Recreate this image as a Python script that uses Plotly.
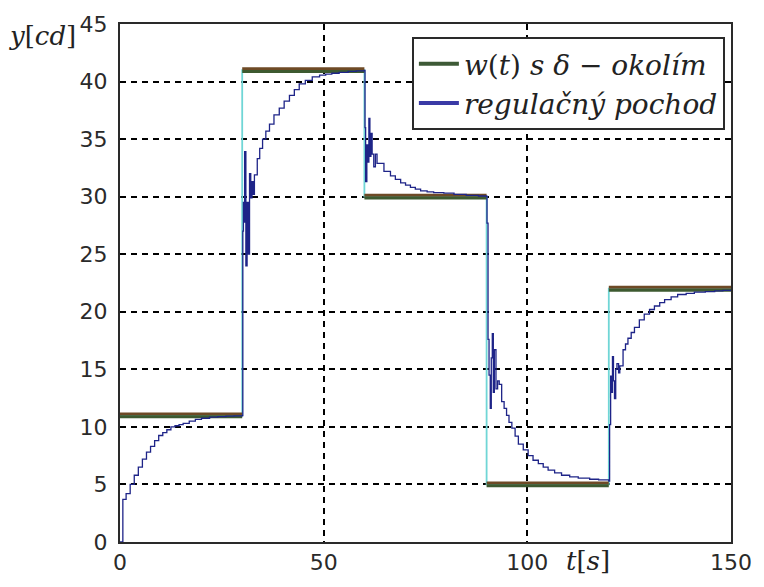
import plotly.graph_objects as go

# setpoint w(t): step times and levels
step_times = [0, 30, 60, 90, 120, 150]
step_levels = [11, 41, 30, 5, 22]
delta = 0.12

# control response
resp_t = [0, 0.7, 1.5, 2.5, 3.5, 4.5, 5.5, 6.5, 7.5, 8.5, 9.5, 10.5, 11.5, 12.5,
          13.5, 14.5, 15.5, 17, 18.5, 20, 22, 24, 26, 28,
          30, 30.15, 30.3, 30.45, 30.6, 30.9, 31.2, 31.5, 31.8, 32.1, 32.4, 32.7,
          33.0, 33.7, 34.3, 35.0, 35.8, 36.7, 37.8, 39.1, 40.3, 41.6, 42.8, 44.0,
          45.5, 47.2, 49, 50.5, 52, 53.8, 56, 58,
          60, 60.15, 60.3, 60.6, 60.85, 61.1, 61.35, 61.6, 61.9, 62.3, 62.7, 63.1,
          63.6, 64.8, 66.4, 67.6, 68.9, 70.1, 71.3, 72.5, 73.8, 75.4, 77, 79.5,
          82, 85, 88,
          90, 90.1, 90.35, 90.6, 90.9, 91.15, 91.4, 91.65, 91.9, 92.3, 92.7, 93.1,
          93.7, 94.3, 94.9, 95.5, 96.2, 97.0, 97.8, 99.0, 100.2, 101.4, 102.7,
          103.9, 105.1, 106.7, 108.4, 110.4, 112.5, 115.3, 117.5,
          120, 120.2, 120.45, 120.7, 120.9, 121.15, 121.4, 121.7, 122.0, 122.4,
          122.7, 123.5, 124.1, 124.7, 125.5, 126.3, 127.5, 128.7, 130, 131.2,
          132.5, 133.7, 135.3, 136.9, 139, 141, 143.7, 146, 148, 150]
resp_y = [0, 3.7, 4.2, 5.0, 5.8, 6.5, 7.2, 7.8, 8.3, 8.8, 9.25, 9.5, 9.75, 10.0,
          10.1, 10.2, 10.3, 10.5, 10.65, 10.75, 10.85, 10.9, 10.94, 10.96,
          10.98, 27, 29.5, 27.8, 33.9, 24.0, 29.5, 25.0, 32.0, 29.9, 31.3, 30.2,
          31.9, 33.3, 34.2, 35.0, 35.7, 36.3, 37.1, 37.7, 38.3, 38.8, 39.3, 39.8,
          40.1, 40.4, 40.55, 40.65, 40.72, 40.8, 40.88, 40.93,
          40.96, 36.0, 31.3, 34.5, 33.0, 36.8, 33.5, 35.5, 33.7, 32.6, 33.7, 32.9,
          32.9, 32.2, 31.8, 31.5, 31.2, 31.0, 30.8, 30.65, 30.5, 30.42, 30.35, 30.3,
          30.2, 30.12, 30.06,
          30.03, 27.7, 17.6, 14.5, 11.6, 16.0, 18.1, 13.0, 16.7, 13.3, 14.0, 13.7,
          12.2, 11.6, 11.0, 10.4, 9.9, 9.2, 8.5, 8.0, 7.5, 7.1, 6.8,
          6.5, 6.25, 6.0, 5.8, 5.65, 5.55, 5.45, 5.4,
          5.3, 10.2, 14.4, 13.0, 16.1, 14.0, 12.45, 15.0, 15.5, 14.7,
          15.3, 16.7, 17.2, 17.7, 18.2, 18.65, 19.3, 19.8, 20.2, 20.5,
          20.8, 21.05, 21.3, 21.5, 21.6, 21.7, 21.75, 21.82, 21.86, 21.9]

x_ticks = [0, 50, 100, 150]
y_ticks = [0, 5, 10, 15, 20, 25, 30, 35, 40, 45]

legend_names = ["<i>w</i>(<i>t</i>) <i>s δ</i> − <i>okolím</i>",
                "<i>regulačný pochod</i>"]

# build band segments
seg_x, up_y, lo_y = [], [], []
for i, lvl in enumerate(step_levels):
    seg_x += [step_times[i], step_times[i + 1], None]
    up_y += [lvl + delta, lvl + delta, None]
    lo_y += [lvl - delta, lvl - delta, None]

fig = go.Figure()
fig.add_trace(go.Scatter(x=step_times, y=step_levels + [step_levels[-1]],
                         mode="lines", line_shape="hv", showlegend=False,
                         line=dict(color="#70d6d6", width=1.8)))
fig.add_trace(go.Scatter(x=seg_x, y=up_y, mode="lines", showlegend=False,
                         line=dict(color="#6e4a26", width=3)))
fig.add_trace(go.Scatter(x=seg_x, y=lo_y, mode="lines", showlegend=False,
                         line=dict(color="#3d5a30", width=3)))
fig.add_trace(go.Scatter(x=resp_t, y=resp_y, mode="lines", line_shape="hv",
                         showlegend=False,
                         line=dict(color="#1e2488", width=1.3)))
# legend entries
fig.add_trace(go.Scatter(x=[None], y=[None], mode="lines", name=legend_names[0],
                         line=dict(color="#3d5a36", width=4)))
fig.add_trace(go.Scatter(x=[None], y=[None], mode="lines", name=legend_names[1],
                         line=dict(color="#3a3aa6", width=4)))

axis_common = dict(showline=True, mirror=True, linecolor="#2a2a2a", linewidth=2,
                   showgrid=True, gridcolor="black", gridwidth=1.5,
                   griddash="6px,5px", zeroline=False, ticks="",
                   tickfont=dict(family="DejaVu Sans", size=22, color="#2a2a2a"))

fig.update_xaxes(range=[0, 150], tickvals=x_ticks, **axis_common)
fig.update_yaxes(range=[0, 45], tickvals=y_ticks, ticklabelstandoff=6, **axis_common)

fig.update_layout(
    width=764, height=587,
    margin=dict(l=120, r=31, t=19, b=37),
    paper_bgcolor="white", plot_bgcolor="white",
    legend=dict(x=0.99, y=0.975, xanchor="right", yanchor="top",
                bgcolor="white", bordercolor="#2a2a2a", borderwidth=2,
                font=dict(family="DejaVu Serif", size=28, color="#222"),
                itemwidth=40, tracegroupgap=0),
    annotations=[
        dict(text="<i>y</i>[<i>cd</i>]", x=42, y=31, xref="paper", yref="paper",
             showarrow=False, font=dict(family="DejaVu Serif", size=26, color="#222")),
        dict(text="<i>t</i>[<i>s</i>]", x=590, y=569, xref="paper", yref="paper",
             showarrow=False, font=dict(family="DejaVu Serif", size=26, color="#222")),
    ],
)
# convert annotation pixel positions to paper coords
pw, ph = 764 - 120 - 31, 587 - 19 - 37
for a in fig.layout.annotations:
    a.x = (a.x - 120) / pw
    a.y = 1 - (a.y - 19) / ph
    a.xanchor = "center"
    a.yanchor = "middle"

fig.write_html("out.html")
